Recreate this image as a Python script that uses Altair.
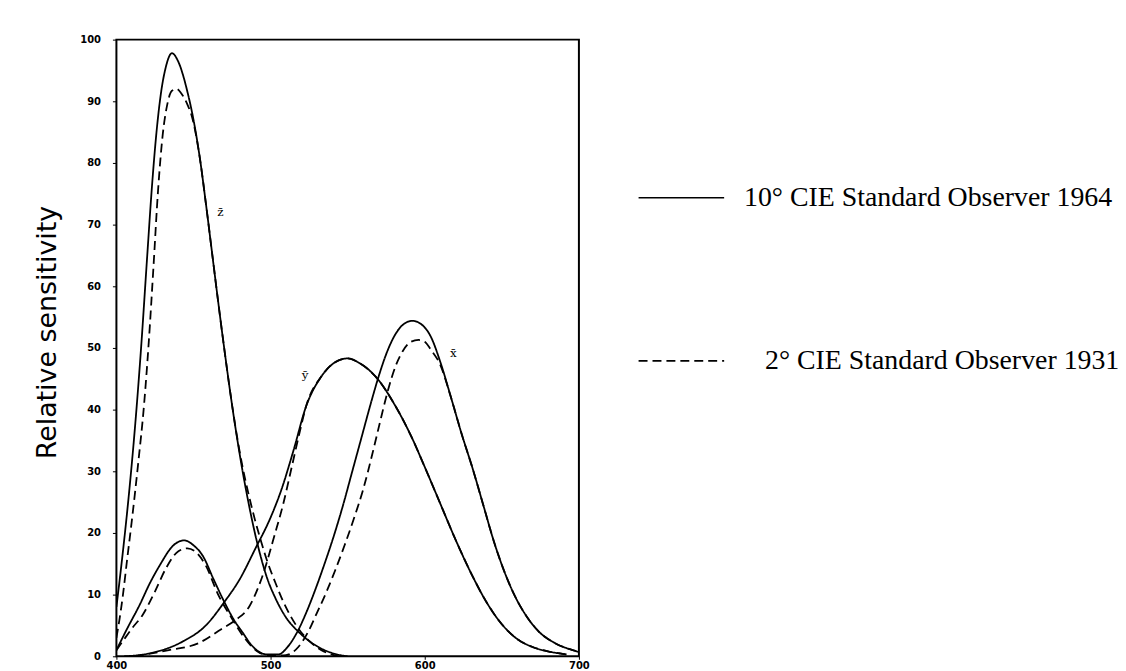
import altair as alt
import pandas as pd

# ---- data (wavelength nm, relative sensitivity) ----
z10_wl = [400, 404, 408, 412, 416, 420, 423, 426, 429, 432, 436, 440, 446, 450, 454, 458, 462, 466, 470, 474, 478, 482, 486, 490, 494, 498, 503, 510, 518, 526, 535, 545, 550]
z10_v = [8, 16.5, 26, 37, 50, 65, 76, 85, 91.5, 95.5, 97.8, 96.5, 91.6, 87, 81, 73.5, 65.5, 57.5, 49.8, 42.5, 35.8, 29.8, 24.5, 19.8, 15.8, 12.5, 9.5, 6.3, 4, 2.3, 1, 0.2, 0]

z2_wl = [400, 402, 404, 407, 410, 414, 418, 421, 424, 427, 430, 433, 436, 439, 442, 446, 449, 454, 458, 462, 466, 470, 474, 478, 482, 486, 490, 494, 498, 503, 508, 513, 518, 525, 533, 544]
z2_v = [3, 6, 9.5, 15.8, 22, 31, 41, 51, 63, 75.5, 84.5, 89.5, 91.7, 92, 91.3, 89.5, 87.5, 81, 73.5, 65.5, 57.5, 49.8, 42.5, 36, 30.5, 26, 22, 18.5, 15.3, 12, 9, 6.5, 4.5, 2.5, 1, 0]

y10_wl = [405, 420, 443, 458, 470, 480, 490, 500, 507, 515, 523, 533, 542, 550, 558, 570, 580, 591, 600, 610, 620, 630, 640, 650, 660, 670, 680, 692]
y10_v = [0, 0.4, 2.4, 5, 8.8, 12.5, 17.4, 22.5, 27, 33.5, 40.5, 45.4, 47.7, 48.3, 47.5, 44.8, 41, 35.8, 30.7, 24.8, 18.9, 13.5, 8.8, 5.2, 2.8, 1.5, 0.8, 0.3]

y2_wl = [412, 434, 453, 468, 478, 486, 494, 503, 508, 514, 519, 523, 533, 542, 550, 558, 570, 580, 591, 600, 610, 620, 630, 640, 650, 660, 670, 680, 692]
y2_v = [0, 1, 2.1, 4.4, 6, 8, 12.5, 20, 24.5, 31, 36.5, 40.5, 45.4, 47.7, 48.3, 47.5, 44.8, 41, 35.8, 30.7, 24.8, 18.9, 13.5, 8.8, 5.2, 2.8, 1.5, 0.8, 0.3]

x10_wl = [400, 407, 415, 422, 428, 437, 444, 450, 456, 463, 470, 476, 482, 487, 492, 498, 505, 511, 517, 523, 529, 535, 541, 547, 553, 559, 565, 570, 575, 580, 586, 592, 598, 604, 610, 617, 624, 631, 638, 645, 652, 659, 666, 674, 684, 696, 700]
x10_v = [1, 4.5, 8.3, 12, 14.7, 18, 18.8, 18, 16.3, 12.5, 8.8, 6, 3.8, 2, 0.8, 0.3, 0.3, 1.5, 3.8, 7, 10.8, 15, 19.5, 24.5, 30, 35.5, 41, 45.3, 49, 51.8, 53.8, 54.4, 53.8, 51.8, 47.8, 42, 36, 30.5, 24.5, 18.5, 13.5, 9.5, 6.5, 4, 2.2, 1, 0.7]

x2_wl = [400, 404, 410, 417, 425, 432, 440, 446, 451, 458, 466, 475, 483, 492, 500, 510, 518, 524, 530, 536, 542, 548, 554, 560, 566, 571, 576, 581, 586, 591, 596, 600, 604, 610, 617, 624, 631, 638, 645, 652, 659, 666, 674, 684, 696, 700]
x2_v = [1, 2.4, 4.5, 6.7, 10.5, 14.2, 17, 17.5, 17, 14.7, 10, 6.1, 3, 0.7, 0.1, 0.2, 1.5, 3.8, 7, 10.3, 14, 18, 22.3, 27, 32.8, 38, 43, 47, 49.6, 51, 51.3, 51, 49.7, 47.3, 42, 36, 30.5, 24.5, 18.5, 13.5, 9.5, 6.5, 4, 2.2, 1, 0.7]

observers = ["10° CIE Standard Observer 1964", "\u28002° CIE Standard Observer 1931"]

label_text = ["z\u0304", "y\u0304", "x\u0304"]
label_wl = [467.5, 522.4, 618.5]
label_v = [72, 45.6, 49.2]

x_ticks = [400, 500, 600, 700]
y_ticks = [0, 10, 20, 30, 40, 50, 60, 70, 80, 90, 100]

series = [
    ("z10", observers[0], z10_wl, z10_v),
    ("z2", observers[1], z2_wl, z2_v),
    ("y10", observers[0], y10_wl, y10_v),
    ("y2", observers[1], y2_wl, y2_v),
    ("x10", observers[0], x10_wl, x10_v),
    ("x2", observers[1], x2_wl, x2_v),
]
rows = []
for name, obs, wl, vals in series:
    for a, b in zip(wl, vals):
        rows.append({"curve": name, "observer": obs, "wl": a, "v": b})
df = pd.DataFrame(rows)
labels_df = pd.DataFrame({"t": label_text, "wl": label_wl, "v": label_v})

x_enc = alt.X(
    "wl:Q",
    scale=alt.Scale(domain=[400, 700], nice=False, zero=False),
    axis=alt.Axis(values=x_ticks, title=None, grid=False, domain=False,
                  tickSize=3, tickColor="black", labelFlush=False,
                  labelFont="DejaVu Sans", labelFontWeight="bold",
                  labelFontSize=10, labelColor="black", labelPadding=1),
)
y_enc = alt.Y(
    "v:Q",
    scale=alt.Scale(domain=[0, 100], nice=False),
    axis=alt.Axis(values=y_ticks, title="Relative sensitivity", grid=False,
                  domain=False, tickSize=4, tickColor="black", labelFlush=False,
                  labelFont="DejaVu Sans", labelFontWeight="bold",
                  labelFontSize=10, labelColor="black", labelPadding=12,
                  titleFont="DejaVu Sans", titleFontSize=27,
                  titleFontWeight="normal", titleColor="black",
                  titlePadding=18, titleY=294),
)

lines = alt.Chart(df).mark_line(
    color="black", strokeWidth=1.8, interpolate="monotone", clip=True
).encode(
    x=x_enc,
    y=y_enc,
    detail="curve:N",
    strokeDash=alt.StrokeDash(
        "observer:N",
        scale=alt.Scale(domain=observers, range=[[1, 0], [9, 5]]),
        legend=alt.Legend(
            title=None, orient="none", legendX=524, legendY=115,
            symbolType="stroke", symbolSize=7400, symbolStrokeWidth=1.6,
            symbolStrokeColor="black", labelFont="Liberation Serif",
            labelFontSize=28, labelColor="black", labelOffset=19,
            labelLimit=600, rowPadding=106, padding=0,
        ),
    ),
)

texts = alt.Chart(labels_df).mark_text(
    font="DejaVu Serif", fontSize=12, color="black"
).encode(x="wl:Q", y="v:Q", text="t:N")

chart = alt.layer(lines, texts).properties(
    width=465,
    height=620,
    autosize=alt.AutoSizeParams(type="none"),
    padding={"left": 109, "top": 30, "right": 542, "bottom": 13},
).configure_view(stroke="black", strokeWidth=2)

chart.save("out.html", embed_options={"renderer": "svg", "actions": False})
